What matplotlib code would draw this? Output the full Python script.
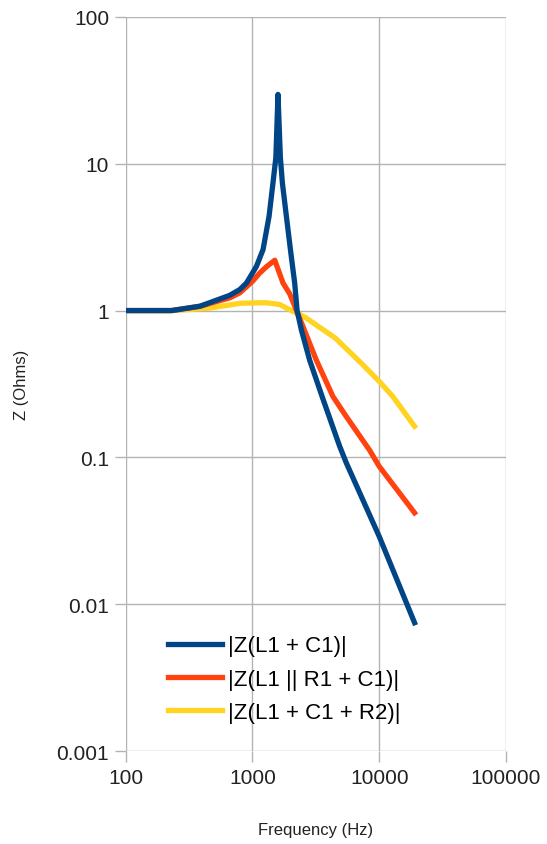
import numpy as np
import matplotlib.pyplot as plt

plt.rcParams['font.family'] = ['Liberation Sans', 'DejaVu Sans']

# Datos
freq_lc = [100, 230, 385, 662, 794, 897, 1000, 1075, 1212, 1352, 1452, 1530, 1590,
           1660, 1722, 1852, 1993, 2153, 2250, 2430, 2825, 3600, 4860, 5495, 10000, 19000]
z_lc = [1.0, 1.0, 1.07, 1.27, 1.39, 1.54, 1.8, 2.0, 2.6, 4.38, 7.4, 11.0, 29.6,
        11.0, 7.4, 4.38, 2.6, 1.54, 1.0, 0.74, 0.46, 0.25, 0.12, 0.092, 0.029, 0.0075]

freq_lrc = [100, 230, 385, 662, 794, 1000, 1140, 1300, 1500, 1742, 1968, 2500, 3190,
            4315, 5495, 8400, 10000, 19000]
z_lrc = [1.0, 1.0, 1.07, 1.22, 1.32, 1.58, 1.8, 2.0, 2.2, 1.54, 1.3, 0.78, 0.46,
         0.26, 0.19, 0.112, 0.087, 0.042]

freq_lcr = [100, 236, 461, 794, 1140, 1288, 1640, 1852, 2600, 4500, 7000, 10000,
            12800, 19000]
z_lcr = [1.0, 1.0, 1.04, 1.12, 1.13, 1.13, 1.10, 1.04, 0.9, 0.65, 0.45, 0.33,
         0.26, 0.163]

etiquetas = ['|Z(L1 + C1)|', '|Z(L1 || R1 + C1)|', '|Z(L1 + C1 + R2)|']
colores = ['#004586', '#ff420e', '#ffd320']
capas = [4, 3, 2]

fig = plt.figure(figsize=(5.47, 8.45), dpi=100)
ax = fig.add_axes([0.2298, 0.1097, 0.6952, 0.8693])

for f, z, lab, col, zo in zip([freq_lc, freq_lrc, freq_lcr], [z_lc, z_lrc, z_lcr],
                              etiquetas, colores, capas):
    ax.plot(f, z, color=col, lw=3.8, label=lab, zorder=zo)

ax.set_xscale('log')
ax.set_yscale('log')
ax.set_xlim(100, 100000)
ax.set_ylim(0.001, 100)
ax.set_xticks([100, 1000, 10000, 100000])
ax.set_xticklabels(['100', '1000', '10000', '100000'])
ax.set_yticks([0.001, 0.01, 0.1, 1, 10, 100])
ax.set_yticklabels(['0.001', '0.01', '0.1', '1', '10', '100'])
ax.minorticks_off()
ax.grid(True, color='#b3b3b3', lw=1)
ax.set_axisbelow(True)
for s in ax.spines.values():
    s.set_visible(False)
ax.tick_params(length=8, width=1, color='#b3b3b3', labelsize=15, labelcolor='#222222', pad=4)

ax.set_xlabel('Frequency (Hz)', fontsize=12, color='#222222', labelpad=25)
ax.set_ylabel('Z (Ohms)', fontsize=12, color='#222222', labelpad=20)

ax.legend(loc='center left', bbox_to_anchor=(0.082, 0.098), frameon=False, fontsize=16,
          borderpad=0, handlelength=2.45, handletextpad=0.27, labelspacing=0.56)

plt.savefig('out.png', dpi=100)
